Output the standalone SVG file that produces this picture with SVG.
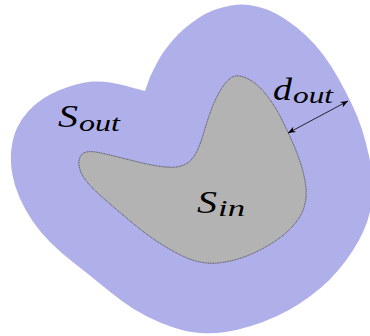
<svg xmlns="http://www.w3.org/2000/svg" width="370" height="336" viewBox="0 0 370 336">
<style>
.lbl{font-family:"Liberation Serif","DejaVu Serif",serif;font-style:italic;fill:#000}
.big{font-size:32px}
.sub{font-size:23px}
</style>
<defs>
<marker id="ah" viewBox="-8 -4 9 8" markerWidth="9" markerHeight="8" refX="0" refY="0" orient="auto-start-reverse" markerUnits="userSpaceOnUse">
<path d="M0,0 L-7.5,-3 L-5.5,0 L-7.5,3 Z" fill="#000"/>
</marker>
</defs>
<rect width="370" height="336" fill="#fff"/>
<g id="S_out">
<path d="M145,91 L150,77 Q158,60 162.5,53.5 Q167,47 172.5,40.5 Q178,34 184.5,28.5 Q191,23 198.5,18 Q206,13 214,10 Q222,7 231,5.5 Q240,4 249,5 Q258,6 267,9.5 Q276,13 286.5,20 Q297,27 306,35.5 Q315,44 323,54.5 Q331,65 338.5,78.5 Q346,92 352,104.5 Q358,117 362,129.5 Q366,142 369,156 Q372,170 372.5,184 Q373,198 370.5,209.5 Q368,221 363.5,231 Q359,241 352.5,251 Q346,261 338,270.5 Q330,280 320.5,288 Q311,296 300.5,303 Q290,310 277,316 Q264,322 251,326 Q238,330 225.5,332 Q213,334 200,333 Q187,332 173.5,327.5 Q160,323 147,316.5 Q134,310 122,301 Q110,292 98.5,282.5 Q87,273 74,263 Q61,253 50.5,242.5 Q40,232 32.5,221 Q25,210 19.5,197.5 Q14,185 12,172.5 Q10,160 11.5,148 Q13,136 17.5,127 Q22,118 28.5,111 Q35,104 42.5,99 Q50,94 58.5,90.5 Q67,87 76,84.5 Q85,82 93,81.5 Q101,81 110.5,82.5 Q120,84 126.5,86 Q133,88 145,91 Z" fill="#afafe9"/>
<text class="lbl big" x="58" y="127" textLength="20" lengthAdjust="spacingAndGlyphs">S</text>
<text class="lbl sub" x="79" y="131" textLength="41" lengthAdjust="spacingAndGlyphs">out</text>
</g>
<g id="S_in">
<path d="M233.5,76.5 Q237,75 243.5,77 Q250,79 256.5,84.5 Q263,90 269.5,99 Q276,108 281.5,119 Q287,130 291.5,140 Q296,150 299.5,160 Q303,170 305,181 Q307,192 305.5,201 Q304,210 300,216.5 Q296,223 290,229 Q284,235 276,240.5 Q268,246 259,250.5 Q250,255 241,258 Q232,261 222,262.5 Q212,264 202.5,262.5 Q193,261 182.5,256 Q172,251 161,244 Q150,237 140,229 Q130,221 120,212.5 Q110,204 101.5,196.5 Q93,189 87.5,182.5 Q82,176 80,169.5 Q78,163 79.5,158.5 Q81,154 85,152.5 Q89,151 95.5,152 Q102,153 112,155.5 Q122,158 136,161.5 Q150,165 161,166.5 Q172,168 179,166.5 Q186,165 190.5,160.5 Q195,156 198,149 Q201,142 203.5,133.5 Q206,125 209.5,114.5 Q213,104 217.5,95.5 Q222,87 226,82.5 Q230,78 233.5,76.5 Z" fill="#b3b3b3" stroke="#333" stroke-width="0.8" stroke-dasharray="1 0.7"/>
<text class="lbl big" x="197" y="213" textLength="20" lengthAdjust="spacingAndGlyphs">S</text>
<text class="lbl sub" x="218" y="216" textLength="27" lengthAdjust="spacingAndGlyphs">in</text>
</g>
<g id="connectors">
<line x1="288" y1="133" x2="348" y2="101" stroke="#000" stroke-width="0.8" marker-start="url(#ah)" marker-end="url(#ah)"/>
</g>
<g id="d_out">
<text class="lbl big" x="273" y="100" textLength="19" lengthAdjust="spacingAndGlyphs">d</text>
<text class="lbl sub" x="293" y="103" textLength="40" lengthAdjust="spacingAndGlyphs">out</text>
</g>
</svg>
